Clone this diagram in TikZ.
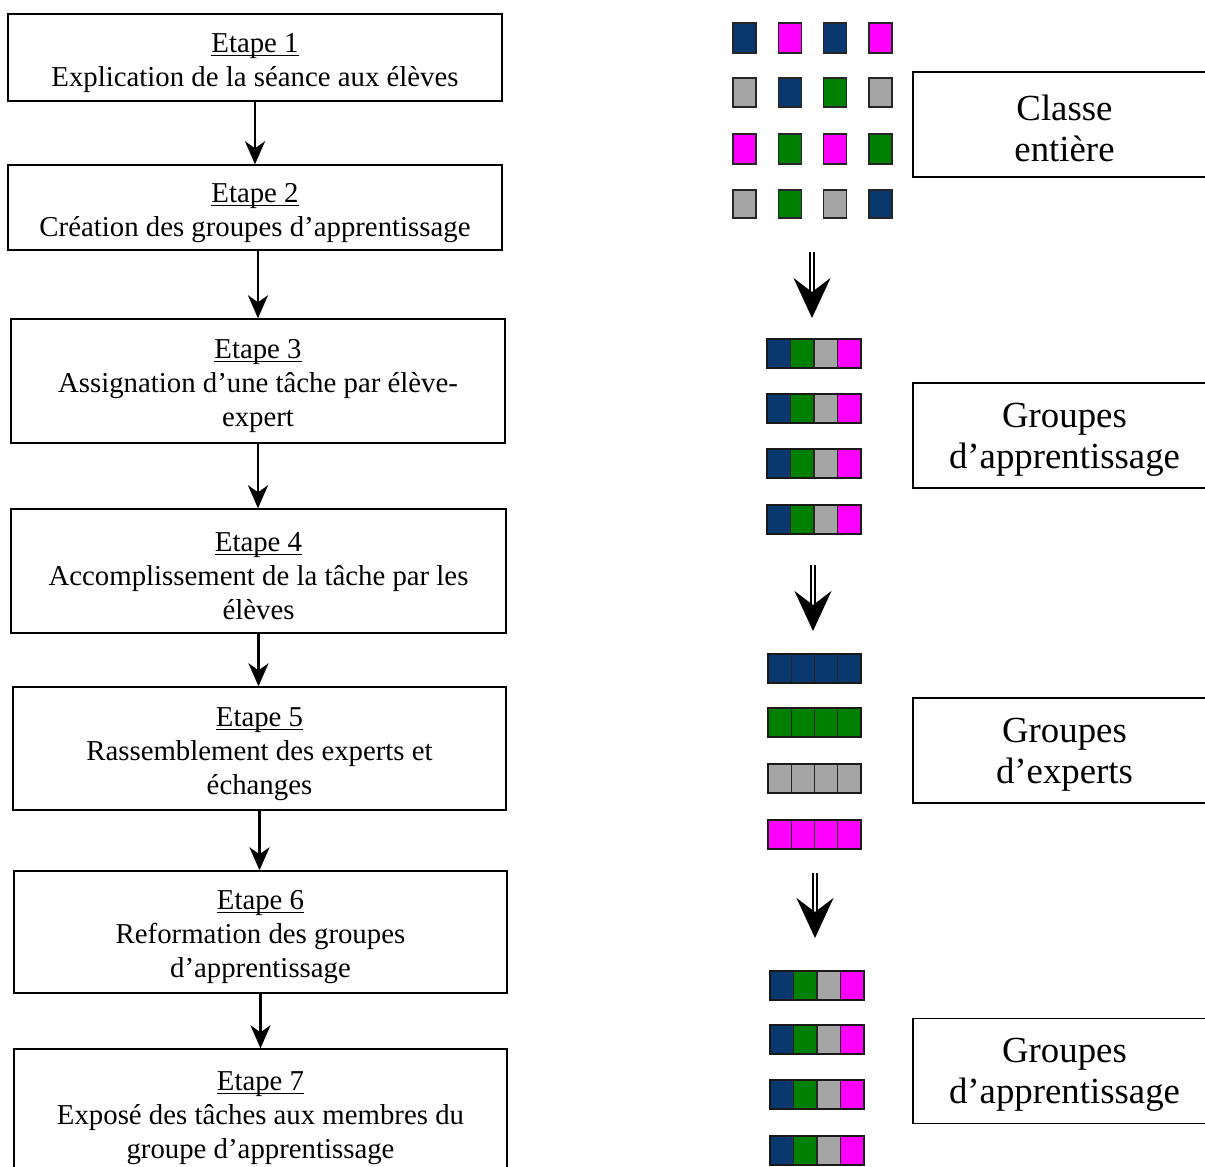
\documentclass[tikz,border=0pt]{standalone}
\usepackage{fontspec}
\setmainfont{Liberation Serif}
\usetikzlibrary{arrows.meta}
\definecolor{navyc}{RGB}{8,56,110}
\definecolor{greenc}{RGB}{0,128,0}
\definecolor{grayc}{RGB}{165,165,165}
\definecolor{magc}{RGB}{255,0,255}
\newcommand\lstrut{\rule{0pt}{14.8pt}}
\newcommand\rstrut{\rule{0pt}{16.2pt}}
\newsavebox\ulbox
\newcommand\wordul[1]{\sbox\ulbox{#1}\rlap{\rule[-1.8pt]{\wd\ulbox}{0.55pt}}\usebox\ulbox}
\begin{document}
\begin{tikzpicture}[x=0.5pt,y=-0.5pt,
  stepbox/.style={draw, line width=0.7pt, inner sep=0pt, align=center,
    font=\fontsize{14.4}{17}\selectfont},
  labelbox/.style={draw, line width=0.7pt, inner sep=0pt, align=center,
    minimum width=151.5pt, minimum height=52.5pt,
    font=\fontsize{18.4}{20.5}\selectfont},
  steparrow/.style={line width=1.4pt, -{Stealth[length=11.5pt,width=10pt,inset=3.5pt]}},
  dblarrow/.style={double, double distance=1.4pt, line width=0.9pt,
    -{Stealth[length=20pt,width=18.5pt,inset=7pt]}},
  cell/.style={draw=black!85, line width=0.6pt},
  barframe/.style={draw=black!90, line width=0.9pt}
]
\useasboundingbox (0,0) rectangle (1205,1167);
\clip (0,0) rectangle (1205,1167);

% ---------- left flow ----------
\node[stepbox, minimum width=247pt, minimum height=43.5pt] (s1) at (255,57.5)
  {\lstrut\wordul{Etape 1}\\Explication de la séance aux élèves};
\node[stepbox, minimum width=247pt, minimum height=42.5pt] (s2) at (255,207.5)
  {\lstrut\wordul{Etape 2}\\Création des groupes d’apprentissage};
\node[stepbox, minimum width=247pt, minimum height=62pt] (s3) at (258,381)
  {\lstrut\wordul{Etape 3}\\Assignation d’une tâche par élève-\\expert};
\node[stepbox, minimum width=247.5pt, minimum height=62pt] (s4) at (258.5,571)
  {\lstrut\wordul{Etape 4}\\Accomplissement de la tâche par les\\élèves};
\node[stepbox, minimum width=246.5pt, minimum height=61.5pt] (s5) at (259.5,748.5)
  {\lstrut\wordul{Etape 5}\\Rassemblement des experts et\\échanges};
\node[stepbox, minimum width=246.5pt, minimum height=61pt] (s6) at (260.5,932)
  {\lstrut\wordul{Etape 6}\\Reformation des groupes\\d’apprentissage};
\node[stepbox, minimum width=246.5pt, minimum height=64pt] (s7) at (260.5,1113)
  {\lstrut\wordul{Etape 7}\\Exposé des tâches aux membres du\\groupe d’apprentissage};

\draw[steparrow] (s1.south) -- (s1.south |- s2.north);
\draw[steparrow] ([xshift=1.5pt]s2.south) -- ([xshift=1.5pt]s2.south |- s3.north);
\draw[steparrow] (s3.south) -- (s3.south |- s4.north);
\draw[steparrow] (s4.south) -- (s4.south |- s5.north);
\draw[steparrow] (s5.south) -- (s5.south |- s6.north);
\draw[steparrow] (s6.south) -- (s6.south |- s7.north);

% ---------- right: whole class grid ----------
\foreach \c [count=\i from 0] in {navyc,magc,navyc,magc}
  \filldraw[cell, fill=\c] (733+45.3*\i,23) rectangle ++(23,30);
\foreach \c [count=\i from 0] in {grayc,navyc,greenc,grayc}
  \filldraw[cell, fill=\c] (733+45.3*\i,78) rectangle ++(23,29);
\foreach \c [count=\i from 0] in {magc,greenc,magc,greenc}
  \filldraw[cell, fill=\c] (733+45.3*\i,134) rectangle ++(23,30);
\foreach \c [count=\i from 0] in {grayc,greenc,grayc,navyc}
  \filldraw[cell, fill=\c] (733+45.3*\i,190) rectangle ++(23,28);

% ---------- learning groups ----------
\foreach \y in {339,394,449,505} {
  \foreach \c [count=\i from 0] in {navyc,greenc,grayc,magc}
    \filldraw[cell, fill=\c] (767+23.5*\i,\y) rectangle ++(23.5,29);
  \draw[barframe] (767,\y) rectangle ++(94,29);
}

% ---------- expert groups ----------
\foreach \y/\c in {654/navyc,708/greenc,764/grayc,820/magc} {
  \foreach \i in {0,1,2,3}
    \filldraw[cell, fill=\c] (768+23.25*\i,\y) rectangle ++(23.25,29);
  \draw[barframe] (768,\y) rectangle ++(93,29);
}

% ---------- learning groups again ----------
\foreach \y in {971,1025,1080,1136} {
  \foreach \c [count=\i from 0] in {navyc,greenc,grayc,magc}
    \filldraw[cell, fill=\c] (770+23.5*\i,\y) rectangle ++(23.5,29);
  \draw[barframe] (770,\y) rectangle ++(94,29);
}

% ---------- double arrows ----------
\coordinate (d1a) at (812,252);
\coordinate (d1b) at (812,318);
\coordinate (d2a) at (813,565);
\coordinate (d2b) at (813,631);
\coordinate (d3a) at (815,873);
\coordinate (d3b) at (815,938);
\draw[dblarrow] (d1a) -- (d1b);
\draw[dblarrow] (d2a) -- (d2b);
\draw[dblarrow] (d3a) -- (d3b);

% ---------- right labels ----------
\node[labelbox] (l1) at (1064.5,124.5) {\rstrut Classe\\entière};
\node[labelbox] (l2) at (1064.5,435.5) {\rstrut Groupes\\d’apprentissage};
\node[labelbox] (l3) at (1064.5,750.5) {\rstrut Groupes\\d’experts};
\node[labelbox] (l4) at (1064.5,1071) {\rstrut Groupes\\d’apprentissage};
\end{tikzpicture}
\end{document}
